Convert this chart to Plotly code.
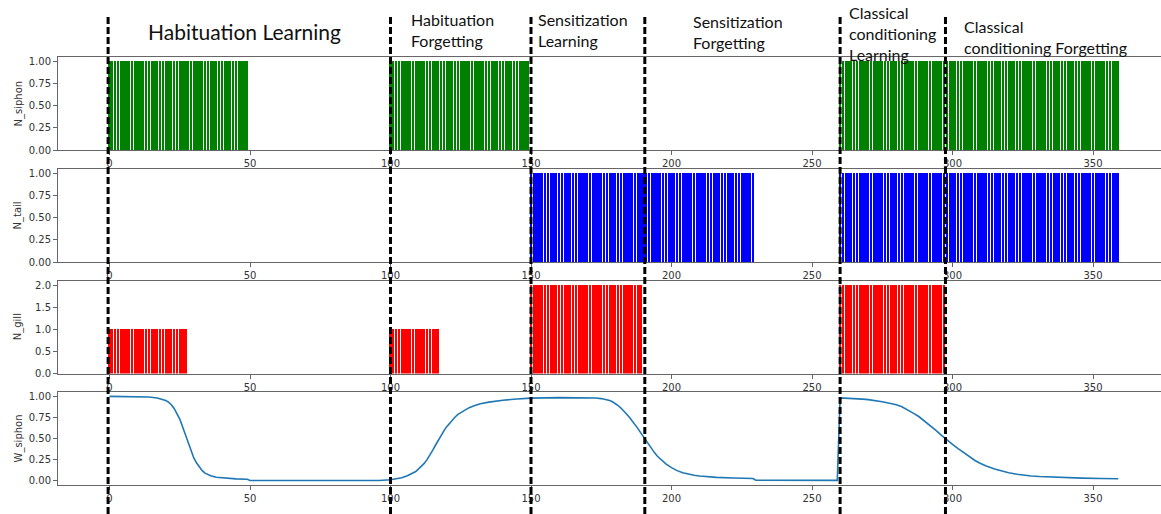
import plotly.graph_objects as go

W, H = 1161, 514

# ---------------- data ----------------
# stimulus on-intervals [start, end) for each input
siphon_on = [(0, 50), (100, 150), (260, 360)]
tail_on = [(150, 230), (260, 360)]
gill_on = [(0, 28, 1.0), (100, 118, 1.0), (150, 190, 2.0), (260, 298, 2.0)]

# W_siphon
w_t = [0, 5, 10, 14, 17, 19, 20, 21, 22, 23, 24, 25, 26, 27, 28, 29, 30, 31, 32, 33, 34, 35, 36,
       38, 41, 45, 49,
       50, 60, 80, 96, 100, 102, 104, 106, 107, 108, 109, 110, 111, 112, 113, 114, 115, 116,
       117, 118, 119, 120, 121, 122, 123, 124, 126, 128, 130, 132,
       135, 140, 145, 150, 160, 170, 173, 175, 177, 178, 179, 180, 181, 182, 183, 184, 185, 186,
       187, 188, 189, 190, 191, 192, 193, 194, 195, 196, 197,
       198, 200, 202, 204, 206, 208, 210, 213, 216, 222, 229, 230, 240, 259, 260, 262, 265,
       268, 270, 272, 275, 278, 280, 282, 284, 286,
       288, 290, 292, 294, 296, 298, 300, 302, 304, 306, 308, 310, 312, 315, 318, 320, 323, 325,
       328, 331, 335, 338, 342, 346, 353, 359]
w_v = [0.998, 0.996, 0.993, 0.99, 0.98, 0.965, 0.95, 0.93, 0.9, 0.855, 0.79, 0.73, 0.64, 0.55,
       0.45, 0.36, 0.27, 0.21, 0.16, 0.12, 0.09, 0.072, 0.06,
       0.042, 0.03, 0.022, 0.018,
       0.004, 0.003, 0.003, 0.004, 0.012, 0.02, 0.035, 0.06, 0.075, 0.09, 0.11, 0.14, 0.17,
       0.205, 0.25, 0.3, 0.36, 0.42, 0.48, 0.54, 0.59, 0.64, 0.68, 0.72, 0.755, 0.785, 0.83,
       0.865, 0.89, 0.91,
       0.93, 0.953, 0.967, 0.977, 0.984, 0.983, 0.979, 0.972, 0.96, 0.95, 0.935, 0.915, 0.89,
       0.86, 0.83, 0.79, 0.75, 0.71, 0.665, 0.62, 0.57, 0.52, 0.47, 0.42, 0.375, 0.33, 0.29,
       0.26, 0.228,
       0.2, 0.155, 0.12, 0.095, 0.078, 0.066, 0.057, 0.047, 0.04, 0.032, 0.026, 0.006, 0.005,
       0.005, 0.98, 0.978, 0.973,
       0.966, 0.96, 0.952, 0.935, 0.915, 0.9, 0.875, 0.84, 0.8,
       0.76, 0.71, 0.66, 0.6, 0.54, 0.48, 0.43, 0.38, 0.33, 0.28, 0.24, 0.205, 0.175, 0.14,
       0.11, 0.095, 0.078, 0.068, 0.057, 0.05, 0.043, 0.039, 0.035, 0.031, 0.027, 0.024]

phase_lines = [-0.5, 100, 150, 190.5, 260, 297.5]
# (text, left px, centre y px, font size)
phase_labels = [
    ("Habituation Learning", 147, 31, 21),
    ("Habituation<br>Forgetting", 410, 29.5, 16),
    ("Sensitization<br>Learning", 537, 30, 16),
    ("Sensitization<br>Forgetting", 692, 31.5, 16),
    ("Classical<br>conditioning<br>Learning", 848, 33, 16),
    ("Classical<br>conditioning Forgetting", 963, 37.5, 16),
]
x_ticks = [0, 50, 100, 150, 200, 250, 300, 350]


def build_steps(intervals, default_val=1.0):
    t, v = [], []
    for iv in intervals:
        a, b = iv[0], iv[1]
        val = iv[2] if len(iv) > 2 else default_val
        for i in range(a, b):
            t.append(i)
            v.append(val)
    return t, v


siph_t, siph_v = build_steps(siphon_on)
tail_t, tail_v = build_steps(tail_on)
gill_t, gill_v = build_steps(gill_on)

# ---------------- figure ----------------
fig = go.Figure()


def px_x(p):
    return p / W


def px_y(p):
    return 1 - p / H


domains = [
    (px_y(150), px_y(57)),
    (px_y(262), px_y(169)),
    (px_y(373.5), px_y(281)),
    (px_y(485), px_y(392)),
]

BW = 0.82
fig.add_trace(go.Bar(x=siph_t, y=siph_v, width=BW, marker=dict(color="#008000", line=dict(width=0)),
                     xaxis="x", yaxis="y"))
fig.add_trace(go.Bar(x=tail_t, y=tail_v, width=BW, marker=dict(color="#0000ff", line=dict(width=0)),
                     xaxis="x2", yaxis="y2"))
fig.add_trace(go.Bar(x=gill_t, y=gill_v, width=BW, marker=dict(color="#ff0000", line=dict(width=0)),
                     xaxis="x3", yaxis="y3"))
fig.add_trace(go.Scatter(x=w_t, y=w_v, mode="lines", line=dict(color="#1f77b4", width=1.6),
                         xaxis="x4", yaxis="y4"))

x0 = (58 - 109.5) / 2.81
x1 = (W - 109.5) / 2.81
axis_common = dict(showline=True, linecolor="#666", linewidth=1, automargin=False,
                   ticks="outside", ticklen=4, tickcolor="#666", showgrid=False, zeroline=False,
                   tickfont=dict(family="DejaVu Sans", size=10, color="#333"))

layout = dict(width=W, height=H, margin=dict(l=0, r=0, t=0, b=0, autoexpand=False),
              plot_bgcolor="white", paper_bgcolor="white", showlegend=False, bargap=0)

yranges = [[0, 1.05], [0, 1.05], [0, 2.1], [-0.05, 1.05]]
yticks = [[0, 0.25, 0.5, 0.75, 1.0], [0, 0.25, 0.5, 0.75, 1.0], [0, 0.5, 1.0, 1.5, 2.0],
          [0, 0.25, 0.5, 0.75, 1.0]]
yfmt = [".2f", ".2f", ".1f", ".2f"]
ytitles = ["N_siphon", "N_tail", "N_gill", "W_siphon"]

for i in range(4):
    sfx = "" if i == 0 else str(i + 1)
    layout["xaxis" + sfx] = dict(domain=[px_x(58), 1.0], range=[x0, x1], anchor="y" + sfx,
                                 tickvals=x_ticks, mirror=True, **axis_common)
    layout["yaxis" + sfx] = dict(domain=list(domains[i]), range=yranges[i], anchor="x" + sfx,
                                 tickvals=yticks[i], tickformat=yfmt[i], mirror=False,
                                 **axis_common)

fig.update_layout(**layout)

annotations = []
for i, t in enumerate(ytitles):
    annotations.append(dict(text=t, x=px_x(18), y=(domains[i][0] + domains[i][1]) / 2,
                            xref="paper", yref="paper", showarrow=False, textangle=-90,
                            xanchor="center", yanchor="middle",
                            font=dict(family="DejaVu Sans", size=10, color="#333")))
for text, xl, yc, fs in phase_labels:
    annotations.append(dict(text=text, x=px_x(xl), y=px_y(yc), xref="paper", yref="paper",
                            showarrow=False, xanchor="left", yanchor="middle", align="left",
                            borderpad=0,
                            font=dict(family="Lato", size=fs, color="#111")))
fig.update_layout(annotations=annotations)

shapes = []
for xv in phase_lines:
    shapes.append(dict(type="line", xref="x", yref="paper", x0=xv, x1=xv, y0=0, y1=px_y(15),
                       line=dict(color="black", width=3, dash="7px,3px"), layer="above"))
fig.update_layout(shapes=shapes)

fig.write_html("out.html", config={"displayModeBar": False},
               post_script="document.body.style.margin='0';document.body.style.overflow='hidden';")
